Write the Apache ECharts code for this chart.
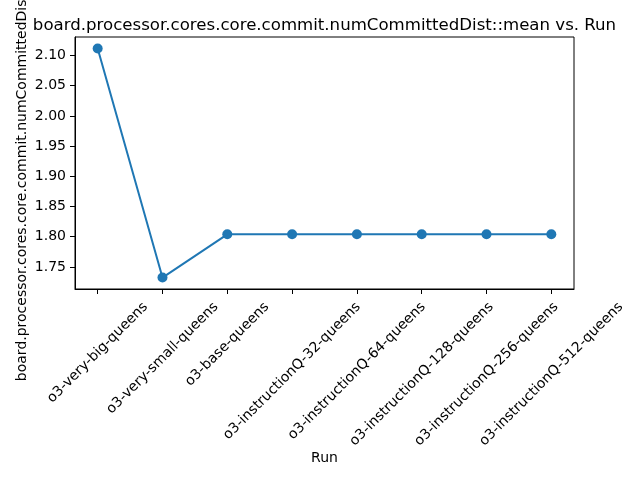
<!DOCTYPE html>
<html>
<head>
<meta charset="utf-8">
<script src="https://cdn.jsdelivr.net/npm/echarts@6/dist/echarts.min.js"></script>
<style>html,body{margin:0;padding:0;background:#fff}#c{width:640px;height:480px}</style>
</head>
<body>
<div id="c"></div>
<script>
const categories = ['o3-very-big-queens','o3-very-small-queens','o3-base-queens','o3-instructionQ-32-queens','o3-instructionQ-64-queens','o3-instructionQ-128-queens','o3-instructionQ-256-queens','o3-instructionQ-512-queens'];
const values = [2.1117, 1.7324, 1.804, 1.804, 1.804, 1.804, 1.804, 1.804];
const yTicks = [1.75, 1.80, 1.85, 1.90, 1.95, 2.00, 2.05, 2.10];

const FONT = 'DejaVu Sans';
const FS = 14;
const ctx = document.createElement('canvas').getContext('2d');
ctx.font = FS + 'px "' + FONT + '"';
const rich = {};
categories.forEach((c, i) => {
  const w = ctx.measureText(c).width;
  const h = 16;
  const p = 0.5 * (w + h);
  rich['r' + i] = { fontFamily: FONT, fontSize: FS, color: '#000', padding: [p, p, 0, 0] };
});

const xIdx = categories.map((c, i) => i);
const n = categories.length - 1;
const xPad = n * 0.05;
const ymin = Math.min(...values), ymax = Math.max(...values);
const yPad = (ymax - ymin) * 0.05;

const chart = echarts.init(document.getElementById('c'), null, { renderer: 'canvas' });
chart.setOption({
  animation: false,
  backgroundColor: '#fff',
  title: {
    text: 'board.processor.cores.core.commit.numCommittedDist::mean vs. Run',
    left: 319.5, top: 12, textAlign: 'center',
    textStyle: { fontFamily: FONT, fontSize: 16.6, fontWeight: 'normal', color: '#000' }
  },
  grid: { left: 75, right: 66, top: 37, bottom: 191, containLabel: false, outerBoundsMode: 'none', show: true, borderColor: '#000', borderWidth: 1 },
  xAxis: {
    type: 'value', min: -xPad, max: n + xPad,
    name: 'Run', nameLocation: 'middle', nameGap: 162, nameMoveOverlap: false,
    nameTextStyle: { fontFamily: FONT, fontSize: 14, color: '#000' },
    axisLine: { show: true, onZero: false, lineStyle: { color: '#000', width: 1 } },
    splitLine: { show: false },
    axisTick: { show: true, length: 5, lineStyle: { color: '#000' }, customValues: xIdx },
    axisLabel: {
      customValues: xIdx, rotate: 45, margin: 10, align: 'center', verticalAlign: 'middle',
      formatter: v => '{r' + Math.round(v) + '|' + categories[Math.round(v)] + '}',
      rich: rich
    }
  },
  yAxis: {
    type: 'value', min: ymin - yPad, max: ymax + yPad,
    name: 'board.processor.cores.core.commit.numCommittedDist::mean',
    nameLocation: 'middle', nameGap: 46, nameRotate: 90, nameMoveOverlap: false,
    nameTextStyle: { fontFamily: FONT, fontSize: 14, color: '#000' },
    axisLine: { show: true, onZero: false, lineStyle: { color: '#000', width: 1 } },
    splitLine: { show: false },
    axisTick: { show: true, length: 5, lineStyle: { color: '#000' }, customValues: yTicks },
    axisLabel: {
      customValues: yTicks, margin: 9,
      fontFamily: FONT, fontSize: 14, color: '#000',
      formatter: v => v.toFixed(2)
    }
  },
  series: [{
    type: 'line',
    data: values.map((v, i) => [xIdx[i], v]),
    symbol: 'circle', symbolSize: 10,
    lineStyle: { color: '#1f77b4', width: 2 },
    itemStyle: { color: '#1f77b4' },
    clip: false
  }]
});
</script>
</body>
</html>
